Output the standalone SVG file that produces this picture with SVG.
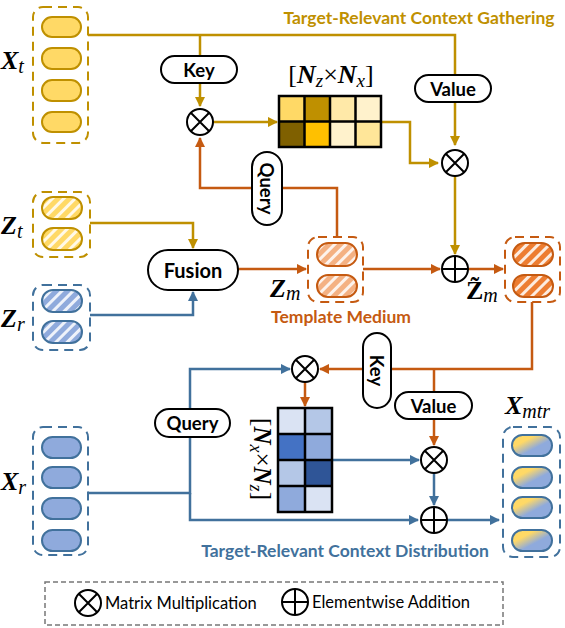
<svg xmlns="http://www.w3.org/2000/svg" width="565" height="628" viewBox="0 0 565 628">
<style>
.g{stroke:#BF9000;stroke-width:2.5;fill:none}
.o{stroke:#C55A11;stroke-width:2.5;fill:none}
.b{stroke:#41719C;stroke-width:2.5;fill:none}
.dg{stroke:#BF9000;stroke-width:2;fill:none;stroke-dasharray:9 6}
.do{stroke:#C55A11;stroke-width:2;fill:none;stroke-dasharray:9 6}
.db{stroke:#41719C;stroke-width:2;fill:none;stroke-dasharray:9 6}
.op{fill:none;stroke:#000;stroke-width:2}
.lbl{fill:#fff;stroke:#000;stroke-width:2}
.lt{font-family:Lato,"Open Sans",sans-serif;font-weight:bold;font-size:18.5px;fill:#000;text-anchor:middle;dominant-baseline:central}
.math{font-family:"Liberation Serif",serif;font-style:italic}
.title{font-family:Lato,"Open Sans",sans-serif;font-weight:bold;font-size:17.5px;text-anchor:middle}
.cell{stroke:#000;stroke-width:2.5}
</style>
<defs>
<marker id="ag" viewBox="0 0 10 10" refX="9" refY="5" markerWidth="4.2" markerHeight="4.2" orient="auto"><path d="M0,0L10,5L0,10z" fill="#BF9000"/></marker>
<marker id="ao" viewBox="0 0 10 10" refX="9" refY="5" markerWidth="4.2" markerHeight="4.2" orient="auto"><path d="M0,0L10,5L0,10z" fill="#C55A11"/></marker>
<marker id="ab" viewBox="0 0 10 10" refX="9" refY="5" markerWidth="4.2" markerHeight="4.2" orient="auto"><path d="M0,0L10,5L0,10z" fill="#41719C"/></marker>
<pattern id="hg" width="8" height="8" patternUnits="userSpaceOnUse" patternTransform="rotate(45)"><rect width="8" height="8" fill="#FFD966"/><rect width="3" height="8" fill="#fff" opacity="0.85"/></pattern>
<pattern id="hb" width="8" height="8" patternUnits="userSpaceOnUse" patternTransform="rotate(45)"><rect width="8" height="8" fill="#8FAADC"/><rect width="3" height="8" fill="#fff" opacity="0.85"/></pattern>
<pattern id="hl" width="8" height="8" patternUnits="userSpaceOnUse" patternTransform="rotate(45)"><rect width="8" height="8" fill="#F4B183"/><rect width="3" height="8" fill="#fff" opacity="0.85"/></pattern>
<pattern id="hd" width="8" height="8" patternUnits="userSpaceOnUse" patternTransform="rotate(45)"><rect width="8" height="8" fill="#ED7D31"/><rect width="3" height="8" fill="#fff" opacity="0.85"/></pattern>
<linearGradient id="mix" x1="0" y1="0" x2="1" y2="1"><stop offset="0.3" stop-color="#FFD966"/><stop offset="0.6" stop-color="#8FAADC"/></linearGradient>
<g id="mul"><circle r="13" class="op"/><path d="M-9.2,-9.2L9.2,9.2M9.2,-9.2L-9.2,9.2" class="op"/></g>
<g id="add"><circle r="13" class="op"/><path d="M-13,0H13M0,-13V13" class="op"/></g>
</defs>
<rect width="565" height="628" fill="#fff"/>

<!-- connectors -->
<g id="connectors">
<path class="g" d="M88,35H455V145" marker-end="url(#ag)"/>
<path class="g" d="M200,35V106" marker-end="url(#ag)"/>
<path class="g" d="M213,122H277" marker-end="url(#ag)"/>
<path class="g" d="M381,122H410V163H438" marker-end="url(#ag)"/>
<path class="g" d="M455,176V254" marker-end="url(#ag)"/>
<path class="o" d="M337,237V188H200V138" marker-end="url(#ao)"/>
<path class="g" d="M90,223H193V248" marker-end="url(#ag)"/>
<path class="b" d="M90,315H193V292" marker-end="url(#ab)"/>
<path class="o" d="M238,269H306" marker-end="url(#ao)"/>
<path class="o" d="M363,269H440" marker-end="url(#ao)"/>
<path class="o" d="M468,269H503" marker-end="url(#ao)"/>
<path class="o" d="M532,302V369H320" marker-end="url(#ao)"/>
<path class="o" d="M434,369V445" marker-end="url(#ao)"/>
<path class="o" d="M305,382V406" marker-end="url(#ao)"/>
<path class="b" d="M88,493H190V369H290" marker-end="url(#ab)"/>
<path class="b" d="M190,493V520H418" marker-end="url(#ab)"/>
<path class="b" d="M332,460H419" marker-end="url(#ab)"/>
<path class="b" d="M434,473V505" marker-end="url(#ab)"/>
<path class="b" d="M447,520H499" marker-end="url(#ab)"/>
</g>

<!-- operators -->
<g id="op-mul1"><use href="#mul" x="200" y="122"/></g>
<g id="op-mul2"><use href="#mul" x="455" y="163"/></g>
<g id="op-add1"><use href="#add" x="455" y="269"/></g>
<g id="op-mul3"><use href="#mul" x="305" y="369"/></g>
<g id="op-mul4"><use href="#mul" x="434" y="460"/></g>
<g id="op-add2"><use href="#add" x="434" y="520"/></g>

<!-- labels -->
<g id="key1"><rect class="lbl" x="161" y="56" width="76" height="27" rx="13.5"/><text class="lt" x="199" y="69.5">Key</text></g>
<g id="value1"><rect class="lbl" x="415" y="75" width="76" height="27" rx="13.5"/><text class="lt" x="453" y="88.5">Value</text></g>
<g id="query1"><rect class="lbl" x="252" y="152" width="30" height="73" rx="15"/><text class="lt" transform="translate(267,188.5) rotate(90)">Query</text></g>
<g id="fusion"><rect class="lbl" x="148" y="250" width="90" height="40" rx="20"/><text class="lt" x="193" y="270" style="font-size:20px">Fusion</text></g>
<g id="key2"><rect class="lbl" x="363" y="333" width="28" height="75" rx="14"/><text class="lt" transform="translate(377,370.5) rotate(90)">Key</text></g>
<g id="value2"><rect class="lbl" x="395" y="392" width="77" height="27" rx="13.5"/><text class="lt" x="433.5" y="405.5">Value</text></g>
<g id="query2"><rect class="lbl" x="155" y="409" width="75" height="28" rx="14"/><text class="lt" x="192.5" y="423">Query</text></g>

<!-- Xt -->
<g id="Xt">
<rect class="dg" x="33" y="7" width="55" height="136" rx="10"/>
<g fill="#FFD966" stroke="#BF9000" stroke-width="2">
<rect x="42" y="17" width="39" height="20" rx="10"/>
<rect x="42" y="48" width="39" height="21" rx="10"/>
<rect x="42" y="80" width="39" height="21" rx="10"/>
<rect x="42" y="112" width="39" height="20" rx="10"/>
</g>
<text class="math" x="1" y="69" font-size="26"><tspan font-weight="bold">X</tspan><tspan font-size="20" dy="4">t</tspan></text>
</g>

<!-- Zt -->
<g id="Zt">
<rect class="dg" x="33" y="192" width="57" height="65" rx="10"/>
<g fill="url(#hg)" stroke="#BF9000" stroke-width="2">
<rect x="42" y="197" width="40" height="22" rx="11"/>
<rect x="42" y="228" width="40" height="22" rx="11"/>
</g>
<text class="math" x="1" y="234" font-size="26"><tspan font-weight="bold">Z</tspan><tspan font-size="20" dy="4">t</tspan></text>
</g>

<!-- Zr -->
<g id="Zr">
<rect class="db" x="33" y="285" width="57" height="65" rx="10"/>
<g fill="url(#hb)" stroke="#41719C" stroke-width="2">
<rect x="42" y="290" width="40" height="22" rx="11"/>
<rect x="42" y="321" width="40" height="22" rx="11"/>
</g>
<text class="math" x="1" y="327" font-size="26"><tspan font-weight="bold">Z</tspan><tspan font-size="20" dy="4">r</tspan></text>
</g>

<!-- Gold matrix -->
<g id="matrix-gather">
<text class="math" x="331" y="83" font-size="26" text-anchor="middle"><tspan font-style="normal">[</tspan><tspan font-weight="bold">N</tspan><tspan font-size="19" dy="4">z</tspan><tspan font-style="normal" dy="-4">×</tspan><tspan font-weight="bold">N</tspan><tspan font-size="19" dy="4">x</tspan><tspan font-style="normal" dy="-4">]</tspan></text>
<rect x="279" y="96" width="25.5" height="25.5" fill="#FFD966"/>
<rect x="304.5" y="96" width="25.5" height="25.5" fill="#BF9000"/>
<rect x="330" y="96" width="25.5" height="25.5" fill="#FFE9A8"/>
<rect x="355.5" y="96" width="25.5" height="25.5" fill="#FFF2CC"/>
<rect x="279" y="121.5" width="25.5" height="25.5" fill="#7F6000"/>
<rect x="304.5" y="121.5" width="25.5" height="25.5" fill="#FFC000"/>
<rect x="330" y="121.5" width="25.5" height="25.5" fill="#FFF2CC"/>
<rect x="355.5" y="121.5" width="25.5" height="25.5" fill="#FFE699"/>
<path class="cell" fill="none" d="M279,96H381V147H279Z M304.5,96V147 M330,96V147 M355.5,96V147 M279,121.5H381"/>
</g>
<text class="title" x="419" y="24" fill="#BF9000">Target-Relevant Context Gathering</text>

<!-- Template medium -->
<g id="Zm">
<rect class="do" x="308" y="237" width="55" height="65" rx="10"/>
<g fill="url(#hl)" stroke="#C55A11" stroke-width="2">
<rect x="317" y="243" width="40" height="23" rx="11.5"/>
<rect x="317" y="275" width="40" height="22" rx="11"/>
</g>
<text class="math" x="270" y="297" font-size="26"><tspan font-weight="bold">Z</tspan><tspan font-size="20" dy="3">m</tspan></text>
<text class="title" x="341" y="323" fill="#C55A11">Template Medium</text>
</g>

<!-- Z tilde m -->
<g id="Ztm">
<rect class="do" x="505" y="237" width="55" height="65" rx="10"/>
<g fill="url(#hd)" stroke="#C55A11" stroke-width="2">
<rect x="513" y="243" width="40" height="23" rx="11.5"/>
<rect x="513" y="275" width="40" height="22" rx="11"/>
</g>
<text class="math" x="466" y="299" font-size="26"><tspan font-weight="bold" font-style="normal">Z̃</tspan><tspan font-size="20" dy="3">m</tspan></text>
</g>

<!-- Blue matrix -->
<g id="matrix-dist">
<rect x="278" y="408" width="27" height="26" fill="#DAE3F3"/>
<rect x="305" y="408" width="27" height="26" fill="#B4C7E7"/>
<rect x="278" y="434" width="27" height="26" fill="#4472C4"/>
<rect x="305" y="434" width="27" height="26" fill="#8FAADC"/>
<rect x="278" y="460" width="27" height="26" fill="#B4C7E7"/>
<rect x="305" y="460" width="27" height="26" fill="#2F5597"/>
<rect x="278" y="486" width="27" height="26" fill="#8FAADC"/>
<rect x="305" y="486" width="27" height="26" fill="#DAE3F3"/>
<path class="cell" fill="none" d="M278,408H332V512H278Z M305,408V512 M278,434H332 M278,460H332 M278,486H332"/>
<text class="math" transform="translate(254,459) rotate(90)" font-size="25" text-anchor="middle"><tspan font-style="normal">[</tspan><tspan font-weight="bold">N</tspan><tspan font-size="18" dy="4">x</tspan><tspan font-style="normal" dy="-4">×</tspan><tspan font-weight="bold">N</tspan><tspan font-size="18" dy="4">z</tspan><tspan font-style="normal" dy="-4">]</tspan></text>
</g>

<!-- Xr -->
<g id="Xr">
<rect class="db" x="33" y="427" width="55" height="128" rx="10"/>
<g fill="#8FAADC" stroke="#41719C" stroke-width="2">
<rect x="42" y="437" width="39" height="21" rx="10.5"/>
<rect x="42" y="467" width="39" height="21" rx="10.5"/>
<rect x="42" y="498" width="39" height="21" rx="10.5"/>
<rect x="42" y="530" width="39" height="21" rx="10.5"/>
</g>
<text class="math" x="1" y="490" font-size="26"><tspan font-weight="bold">X</tspan><tspan font-size="20" dy="4">r</tspan></text>
</g>

<!-- Xmtr -->
<g id="Xmtr">
<rect class="db" x="503" y="427" width="57" height="130" rx="10"/>
<g fill="url(#mix)" stroke="#41719C" stroke-width="2">
<rect x="512" y="435" width="40" height="21" rx="10.5"/>
<rect x="512" y="467" width="40" height="21" rx="10.5"/>
<rect x="512" y="497" width="40" height="21" rx="10.5"/>
<rect x="512" y="530" width="40" height="21" rx="10.5"/>
</g>
<text class="math" x="505" y="414" font-size="26"><tspan font-weight="bold">X</tspan><tspan font-size="20" dy="4">mtr</tspan></text>
</g>
<text class="title" x="345" y="557" fill="#41719C">Target-Relevant Context Distribution</text>

<!-- legend -->
<g id="legend">
<rect x="45" y="582" width="458" height="43" fill="none" stroke="#777" stroke-width="1.5" stroke-dasharray="5 3"/>
<use href="#mul" x="88" y="603"/>
<text x="105" y="609" font-family="Lato,'Open Sans',sans-serif" font-size="16.5">Matrix Multiplication</text>
<use href="#add" x="295" y="602"/>
<text x="312" y="608" font-family="Lato,'Open Sans',sans-serif" font-size="16.5">Elementwise Addition</text>
</g>
</svg>
